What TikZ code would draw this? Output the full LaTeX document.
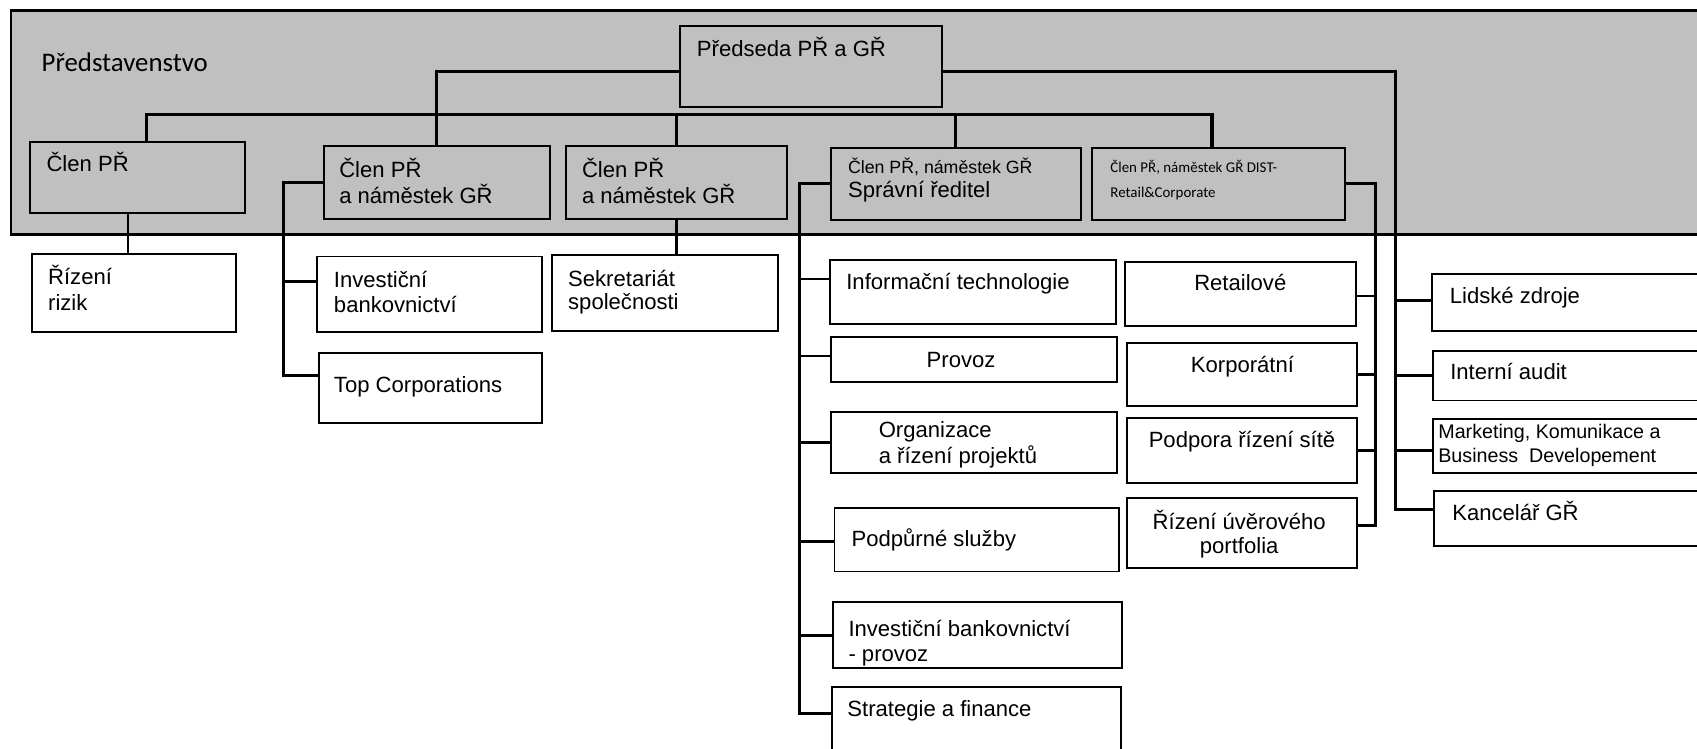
\documentclass[tikz,border=0pt]{standalone}
\usepackage{fontspec}
\setmainfont{Liberation Sans}
\newfontfamily\calib{Carlito}
\usetikzlibrary{calc}
\definecolor{bandgray}{RGB}{192,192,192}
\newcommand\mkbox[6][]{\node[obox,#1,minimum width={(#5-#3)*0.5pt},minimum height={(#6-#4)*0.5pt}] (#2) at ({(#3+#5)/2},{(#4+#6)/2}) {};}
\begin{document}
\begin{tikzpicture}[x=0.5pt,y=-0.5pt,
  obox/.style={draw=black,line width=0.85pt,fill=white,inner sep=0pt,outer sep=0pt,rectangle},
  gbox/.style={fill=bandgray},
  lbl/.style={inner sep=0pt,outer sep=0pt,anchor=west,font=\fontsize{10.2}{12}\selectfont,text height=7.3pt,text depth=0pt},
  conn/.style={line width=1.4pt},
  conn2/.style={line width=1.0pt}]
\useasboundingbox (0,0) rectangle (1568,692);
\clip (0,0) rectangle (1568,692);
% band
\draw[fill=bandgray,line width=1.2pt] (10,9.5) rectangle (1600,216.5);
\node[lbl,font=\calib\fontsize{12.4}{14}\selectfont,text height=8pt] (band) at (38.5,58.5) {Představenstvo};
% boxes in band
\mkbox[gbox]{P}{628}{24}{870}{98.6}
\mkbox[gbox]{C1}{28}{131}{226}{197}
\mkbox[gbox]{C2}{299}{135}{508}{202}
\mkbox[gbox]{C3}{523}{135}{727}{202}
\mkbox[gbox]{SR}{768}{136.4}{998.6}{203}
\mkbox[gbox]{DI}{1009}{136.4}{1242.7}{203}
% boxes below
\mkbox{RR}{29.7}{234.7}{217.8}{306.4}
\mkbox{IB}{293}{237}{501}{306.4}
\mkbox{TC}{294.7}{325.8}{501}{390.5}
\mkbox{SK}{509.7}{235.6}{719.2}{306}
\mkbox{IT}{767}{240}{1030.8}{299.7}
\mkbox{PV}{768}{311}{1032}{352.6}
\mkbox{OR}{768}{381}{1032}{436.7}
\mkbox{PS}{771}{469}{1034}{528}
\mkbox{IP}{770}{556.5}{1037}{617}
\mkbox{SF}{768.4}{635}{1035.5}{720}
\mkbox{RE}{1039.6}{241.8}{1252.9}{301}
\mkbox{KO}{1041}{317}{1254}{375}
\mkbox{PO}{1041}{386.5}{1254}{446}
\mkbox{RU}{1041}{460.4}{1253.8}{525.1}
\mkbox{LZ}{1323.4}{253.5}{1600}{305.5}
\mkbox{IA}{1324}{324}{1600}{370}
\mkbox{MK}{1324}{386.9}{1600}{436.8}
\mkbox{KG}{1325}{453.6}{1600}{504.2}
% labels
\node[lbl] (P-t) at (644,44.7) {Předseda PŘ a GŘ};
\node[lbl] (C1-t) at (43,151) {Člen PŘ};
\node[lbl] (C2-t1) at (313.5,157) {Člen PŘ};
\node[lbl] (C2-t2) at (313.5,181) {a náměstek GŘ};
\node[lbl] (C3-t1) at (537.8,157) {Člen PŘ};
\node[lbl] (C3-t2) at (537.8,181) {a náměstek GŘ};
\node[lbl,font=\fontsize{8.2}{10}\selectfont,text height=5.9pt] (SR-t1) at (783.6,154) {Člen PŘ, náměstek GŘ};
\node[lbl] (SR-t2) at (783.6,175) {Správní ředitel};
\node[lbl,font=\calib\fontsize{6.9}{8}\selectfont,text height=4.5pt] (DI-t1) at (1026,154.5) {Člen PŘ, náměstek GŘ DIST-};
\node[lbl,font=\calib\fontsize{6.9}{8}\selectfont,text height=4.5pt] (DI-t2) at (1026,177.7) {Retail\&Corporate};
\node[lbl] (RR-t1) at (44.5,255.6) {Řízení};
\node[lbl] (RR-t2) at (44.5,279.6) {rizik};
\node[lbl] (IB-t1) at (308.6,258.7) {Investiční};
\node[lbl] (IB-t2) at (308.6,281.8) {bankovnictví};
\node[lbl] (TC-t) at (308.6,355.7) {Top Corporations};
\node[lbl] (SK-t1) at (525,257) {Sekretariát};
\node[lbl] (SK-t2) at (525,279) {společnosti};
\node[lbl] (IT-t) at (782,260) {Informační technologie};
\node[lbl,anchor=center] (PV-t) at (888,332) {Provoz};
\node[lbl] (OR-t1) at (812,397) {Organizace};
\node[lbl] (OR-t2) at (812,421) {a řízení projektů};
\node[lbl] (PS-t) at (786.9,498) {Podpůrné služby};
\node[lbl] (IP-t1) at (784,580.6) {Investiční bankovnictví};
\node[lbl] (IP-t2) at (784,603.7) {- provoz};
\node[lbl] (SF-t) at (783,654.5) {Strategie a finance};
\node[lbl,anchor=center] (RE-t) at (1146,261) {Retailové};
\node[lbl,anchor=center] (KO-t) at (1148,337) {Korporátní};
\node[lbl,anchor=center] (PO-t) at (1147.6,406.5) {Podpora řízení sítě};
\node[lbl,anchor=center] (RU-t1) at (1145,482) {Řízení úvěrového};
\node[lbl,anchor=center] (RU-t2) at (1145,504.4) {portfolia};
\node[lbl] (LZ-t) at (1339.7,273) {Lidské zdroje};
\node[lbl] (IA-t) at (1340,343.4) {Interní audit};
\node[lbl,font=\fontsize{9.1}{11}\selectfont,text height=6.5pt] (MK-t1) at (1329,398.9) {Marketing, Komunikace a};
\node[lbl,font=\fontsize{9.1}{11}\selectfont,text height=6.5pt] (MK-t2) at (1329,421) {Business\ \ Developement};
\node[lbl] (KG-t) at (1341.9,474) {Kancelář GŘ};
% connector coordinates
\coordinate (bus) at (640,105.6);
\coordinate (c2b) at (262,0);
\coordinate (srb) at (739,0);
\coordinate (dib) at (1270.7,0);
\coordinate (prb) at (1289,0);
\coordinate (TCb) at ([yshift=5.5pt]TC.west);
\coordinate (IBb) at ([yshift=6pt]IB.west);
\coordinate (ITb) at ([yshift=6pt]IT.west);
\coordinate (PVb) at ([yshift=1.4pt]PV.west);
\coordinate (ORb) at (OR.west);
\coordinate (PSb) at ([yshift=-1pt]PS.west);
\coordinate (IPb) at (IP.west);
\coordinate (SFb) at ([yshift=-12pt]SF.north west);
\coordinate (REb) at ([yshift=-1pt]RE.east);
\coordinate (KOb) at (KO.east);
\coordinate (POb) at (PO.east);
\coordinate (RUb) at ([yshift=3.4pt]RU.east);
\coordinate (LZb) at ([yshift=1pt]LZ.west);
\coordinate (IAb) at (IA.west);
\coordinate (MKb) at ([yshift=-2pt]MK.west);
\coordinate (KGb) at ([yshift=4.2pt]KG.west);
% connectors
\draw[conn] ([yshift=-2.3pt]P.west) -| (C2.north);
\draw[conn] ([yshift=-2.3pt]P.east) -| (prb |- KGb) -- (KGb);
\draw[conn] ([xshift=4pt]C1.north) |- (bus) -| ([xshift=-3pt]DI.north);
\draw[conn] (C3.north) -- (C3.north |- bus);
\draw[conn] (SR.north) -- (SR.north |- bus);
\draw[conn2] ([xshift=-4.5pt]C1.south) -- ([xshift=-4.5pt]C1.south |- RR.north);
\draw[conn] (C2.west) -| (c2b |- TCb) -- (TCb);
\draw[conn] (IBb) -- (c2b |- IBb);
\draw[conn] (C3.south) -- (C3.south |- SK.north);
\draw[conn] (SR.west) -| (srb |- SFb) -- (SFb);
\draw[conn2] (ITb) -- (srb |- ITb);
\draw[conn2] (PVb) -- (srb |- PVb);
\draw[conn] (ORb) -- (srb |- ORb);
\draw[conn] (PSb) -- (srb |- PSb);
\draw[conn] (IPb) -- (srb |- IPb);
\draw[conn] (DI.east) -| (dib |- RUb) -- (RUb);
\draw[conn2] (REb) -- (dib |- REb);
\draw[conn2] (KOb) -- (dib |- KOb);
\draw[conn2] (POb) -- (dib |- POb);
\draw[conn] (LZb) -- (prb |- LZb);
\draw[conn] (IAb) -- (prb |- IAb);
\draw[conn] (MKb) -- (prb |- MKb);
\end{tikzpicture}
\end{document}
